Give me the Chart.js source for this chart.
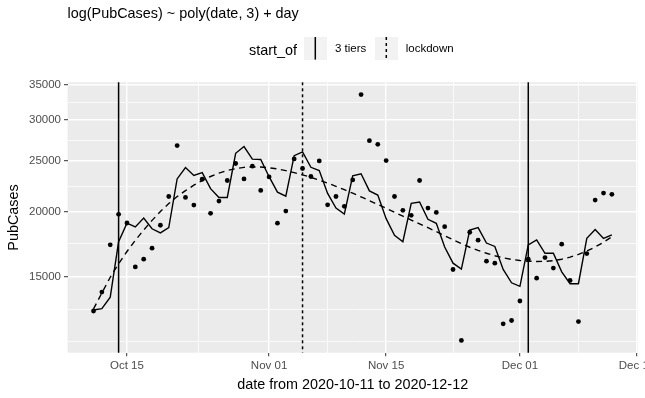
<!DOCTYPE html>
<html>
<head>
<meta charset="utf-8">
<script src="https://cdn.jsdelivr.net/npm/chart.js@4.4.1/dist/chart.umd.min.js"></script>
<style>
  html, body { margin: 0; padding: 0; background: #ffffff; }
  #wrap { position: relative; width: 645px; height: 398px; background: #ffffff; overflow: hidden;
          font-family: 'Liberation Sans', Arial, Helvetica, sans-serif; }
  #c { position: absolute; left: 0; top: 0; }
  .txt { position: absolute; white-space: nowrap; line-height: 1; color: #000; }
  #title { left: 67.6px; top: 6px; font-size: 14.4px; }
  #legTitle { left: 249px; top: 43px; font-size: 14.4px; }
  .legLab { top: 43px; font-size: 11.5px; }
  .key { position: absolute; top: 37.3px; width: 22.6px; height: 22.6px; background: #F2F2F2; }
  .key svg { display: block; }
</style>
</head>
<body>
<div id="wrap">
  <canvas id="c" width="645" height="398"></canvas>
  <div id="title" class="txt">log(PubCases) ~ poly(date, 3) + day</div>
  <div id="legTitle" class="txt">start_of</div>
  <div class="key" style="left:304px"><svg width="22.6" height="22.6"><line x1="11.3" y1="0" x2="11.3" y2="22.6" stroke="#000" stroke-width="1.5"/></svg></div>
  <div class="txt legLab" style="left:335px">3 tiers</div>
  <div class="key" style="left:375px"><svg width="22.6" height="22.6"><line x1="11.3" y1="0" x2="11.3" y2="22.6" stroke="#000" stroke-width="1.5" stroke-dasharray="3 3"/></svg></div>
  <div class="txt legLab" style="left:405.7px">lockdown</div>
</div>
<script>
// ---------------- data ----------------
const dates = [
  '2020-10-11','2020-10-12','2020-10-13','2020-10-14','2020-10-15','2020-10-16','2020-10-17',
  '2020-10-18','2020-10-19','2020-10-20','2020-10-21','2020-10-22','2020-10-23','2020-10-24',
  '2020-10-25','2020-10-26','2020-10-27','2020-10-28','2020-10-29','2020-10-30','2020-10-31',
  '2020-11-01','2020-11-02','2020-11-03','2020-11-04','2020-11-05','2020-11-06','2020-11-07',
  '2020-11-08','2020-11-09','2020-11-10','2020-11-11','2020-11-12','2020-11-13','2020-11-14',
  '2020-11-15','2020-11-16','2020-11-17','2020-11-18','2020-11-19','2020-11-20','2020-11-21',
  '2020-11-22','2020-11-23','2020-11-24','2020-11-25','2020-11-26','2020-11-27','2020-11-28',
  '2020-11-29','2020-11-30','2020-12-01','2020-12-02','2020-12-03','2020-12-04','2020-12-05',
  '2020-12-06','2020-12-07','2020-12-08','2020-12-09','2020-12-10','2020-12-11','2020-12-12'
];
const pubCases = [
  12880, 14000, 17250, 19740, 19000, 15650, 16190, 17000, 18810, 21360,
  26740, 21270, 20560, 23050, 19830, 20930, 22920, 24710, 23080, 24420,
  21940, 23290, 18980, 20030, 25210, 24170, 23330, 24990, 20590, 21360,
  20450, 22980, 33500, 27330, 26890, 25030, 21360, 20090, 19650, 22920,
  20290, 19910, 18690, 15470, 11310, 18240, 17610, 16050, 15910, 12170,
  12350, 13460, 16190, 14890, 16310, 15570, 17300, 14740, 12290, 16600,
  21020, 21680, 21560
];
const fittedDay = [
  12940, 13010, 13690, 17490, 18980, 18670, 19420, 18520, 18190, 18620,
  23080, 24280, 23440, 23740, 22110, 21270, 21270, 25850, 26630, 25190,
  25150, 23310, 21770, 21390, 25580, 26020, 24300, 23960, 21650, 20290,
  19760, 23410, 23620, 21890, 21490, 19370, 17990, 17490, 20720, 20850,
  19310, 18970, 17090, 15910, 15500, 18420, 18610, 17390, 17130, 15480,
  14590, 14360, 17250, 17630, 16620, 16620, 15310, 14530, 14530, 17760,
  18460, 17740, 18020
];
const fittedPoly = [
  13000, 13950, 14950, 15870, 16750, 17600, 18420, 19220, 19980, 20700,
  21350, 21920, 22450, 22920, 23330, 23680, 23960, 24160, 24290, 24340,
  24330, 24250, 24120, 23950, 23740, 23500, 23240, 22960, 22660, 22340,
  22010, 21670, 21320, 20970, 20620, 20270, 19920, 19580, 19250, 18920,
  18610, 18290, 17960, 17650, 17350, 17070, 16830, 16620, 16440, 16290,
  16180, 16100, 16050, 16030, 16040, 16090, 16190, 16340, 16540, 16790,
  17090, 17450, 17880
];
const eventDates = ['2020-10-14', '2020-11-05', '2020-12-02'];
const eventTypes = ['3 tiers', 'lockdown', '3 tiers'];
const xTickDates = ['2020-10-15', '2020-11-01', '2020-11-15', '2020-12-01', '2020-12-15'];
const xTickLabels = ['Oct 15', 'Nov 01', 'Nov 15', 'Dec 01', 'Dec 15'];
const yTicks = [15000, 20000, 25000, 30000, 35000];
const yMinorTicks = [11250, 12990, 17320, 22360, 27390, 32400];

// ---------------- helpers ----------------
const DAY = 86400000;
const t0 = Date.parse(dates[0]);
const dayNum = d => (Date.parse(d) - t0) / DAY;
const xs = dates.map(dayNum);
const xMajor = xTickDates.map(dayNum);
const xMinor = xMajor.slice(0, -1).map((v, i) => (v + xMajor[i + 1]) / 2);
const FONT = "'Liberation Sans', Arial, Helvetica, sans-serif";

const pts = (arr) => arr.map((v, i) => ({ x: xs[i], y: v }));

const panelBg = {
  id: 'panelBg',
  beforeDraw(chart) {
    const { ctx, chartArea: a } = chart;
    ctx.save();
    ctx.fillStyle = '#EBEBEB';
    ctx.fillRect(a.left, a.top, a.right - a.left, a.bottom - a.top);
    ctx.restore();
  }
};

const vlines = {
  id: 'vlines',
  beforeDatasetsDraw(chart) {
    const { ctx, chartArea: a, scales } = chart;
    ctx.save();
    ctx.strokeStyle = '#000';
    ctx.lineWidth = 1.5;
    eventDates.forEach((d, i) => {
      const x = scales.x.getPixelForValue(dayNum(d));
      ctx.setLineDash(eventTypes[i] === 'lockdown' ? [3, 3] : []);
      ctx.beginPath();
      ctx.moveTo(x, a.top);
      ctx.lineTo(x, a.bottom);
      ctx.stroke();
    });
    ctx.restore();
  }
};

const isMajorX = v => xMajor.some(m => Math.abs(m - v) < 1e-6);
const isMajorY = v => yTicks.some(m => Math.abs(m - v) < 1e-6);

new Chart(document.getElementById('c').getContext('2d'), {
  type: 'scatter',
  data: {
    datasets: [
      { type: 'line', label: 'poly', data: pts(fittedPoly), borderColor: '#000', borderWidth: 1.4,
        borderDash: [6, 4.5], pointRadius: 0, fill: false, tension: 0 },
      { type: 'line', label: 'fit', data: pts(fittedDay), borderColor: '#000', borderWidth: 1.4,
        pointRadius: 0, fill: false, tension: 0 },
      { type: 'scatter', label: 'PubCases', data: pts(pubCases), backgroundColor: '#000',
        borderColor: '#000', borderWidth: 0, pointRadius: 2.4 }
    ]
  },
  options: {
    responsive: false,
    animation: false,
    devicePixelRatio: 1,
    layout: { padding: { left: 0, right: 7.2, top: 82.3, bottom: 0 } },
    plugins: { legend: { display: false }, tooltip: { enabled: false }, title: { display: false } },
    scales: {
      x: {
        type: 'linear', min: -3.1, max: 65.1, bounds: 'data',
        border: { display: false },
        grid: {
          color: '#FFFFFF',
          lineWidth: c => (c.tick && isMajorX(c.tick.value)) ? 1.4 : 0.7,
          tickColor: c => (c.tick && isMajorX(c.tick.value)) ? '#333333' : 'rgba(0,0,0,0)',
          tickLength: 3.6, tickWidth: 1
        },
        ticks: {
          autoSkip: false, maxRotation: 0, minRotation: 0, padding: 3,
          color: '#4D4D4D', font: { family: FONT, size: 11.5 },
          callback: (v) => { const i = xMajor.findIndex(m => Math.abs(m - v) < 1e-6); return i >= 0 ? xTickLabels[i] : ''; }
        },
        title: { display: true, text: 'date from 2020-10-11 to 2020-12-12', color: '#000',
                 font: { family: FONT, size: 14.4 }, padding: { top: 0, bottom: 4.8 } },
        afterBuildTicks: s => { s.ticks = xMajor.concat(xMinor).map(v => ({ value: v })); },
        afterFit: s => { s.height = 45.3; s.paddingLeft = 0; s.paddingRight = 0; }
      },
      y: {
        type: 'logarithmic', min: 10713, max: 35370, bounds: 'data',
        border: { display: false },
        grid: {
          color: '#FFFFFF',
          lineWidth: c => (c.tick && isMajorY(c.tick.value)) ? 1.4 : 0.7,
          tickColor: c => (c.tick && isMajorY(c.tick.value)) ? '#333333' : 'rgba(0,0,0,0)',
          tickLength: 3.6, tickWidth: 1
        },
        ticks: {
          autoSkip: false, padding: 3,
          color: '#4D4D4D', font: { family: FONT, size: 11.5 },
          callback: (v) => isMajorY(v) ? String(v) : ''
        },
        title: { display: true, text: 'PubCases', color: '#000',
                 font: { family: FONT, size: 14.4 }, padding: { top: 5, bottom: 0 } },
        afterBuildTicks: s => { s.ticks = yTicks.concat(yMinorTicks).map(v => ({ value: v })); },
        afterFit: s => { s.width = 67.6; s.paddingTop = 0; s.paddingBottom = 0; }
      }
    }
  },
  plugins: [panelBg, vlines]
});
</script>
</body>
</html>
